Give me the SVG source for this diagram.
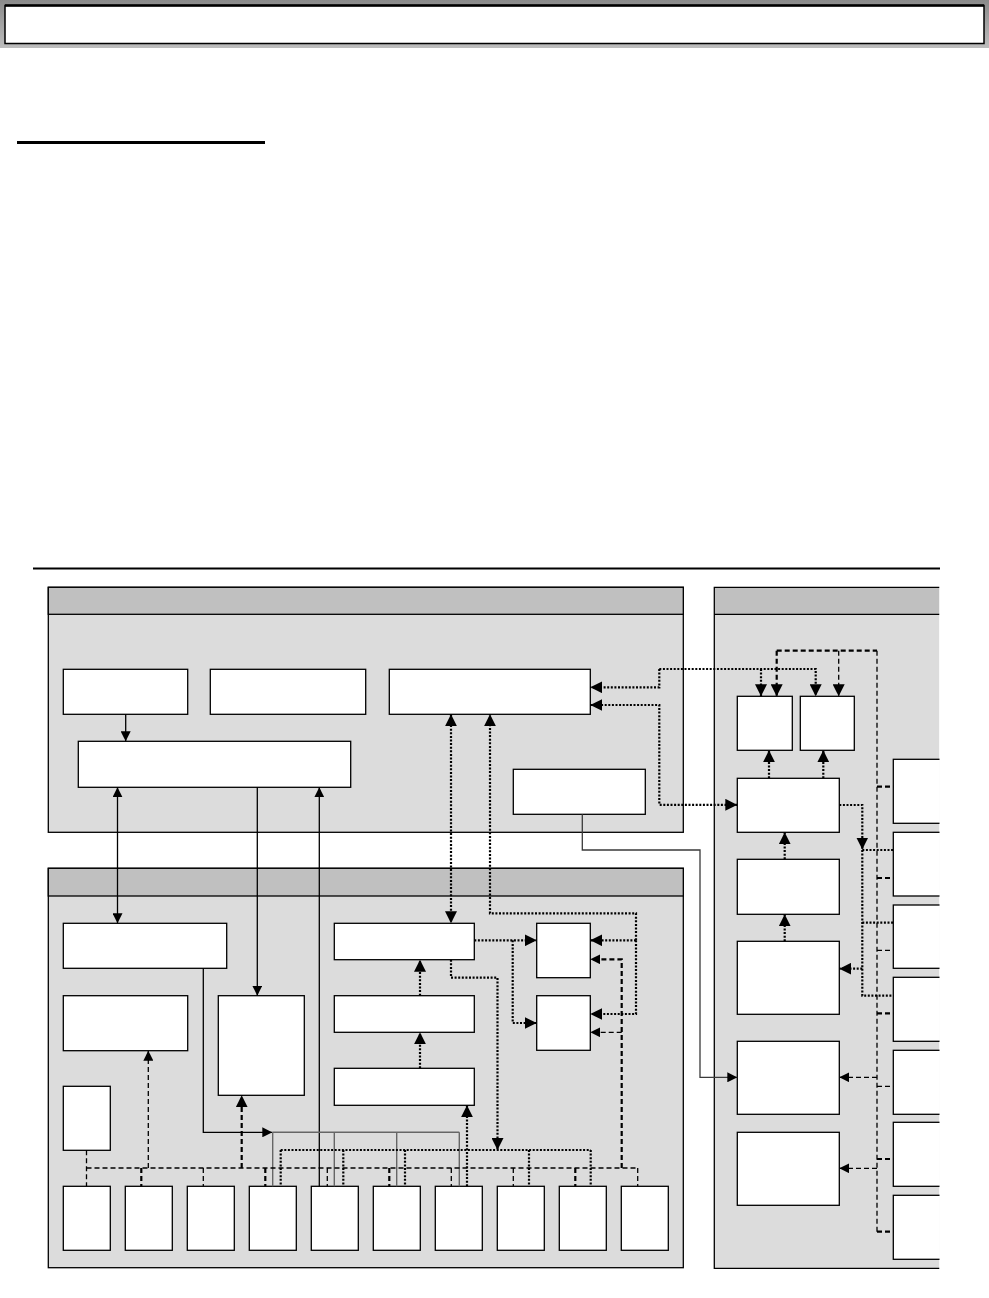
<svg xmlns="http://www.w3.org/2000/svg" width="989" height="1298" viewBox="0 0 989 1298">
<defs>
<style>
.node{fill:#fff;stroke:#000;stroke-width:1.3}
.cont{fill:#dcdcdc;stroke:#000;stroke-width:1.3}
.band{fill:#c0c0c0;stroke:#000;stroke-width:1.3}
.solid{fill:none;stroke:#000;stroke-width:1.3}
.grey{fill:none;stroke:#666;stroke-width:1.4}
.dgrey{fill:none;stroke:#3a3a3a;stroke-width:1.3}
.dot{fill:none;stroke:#000;stroke-width:2.2;stroke-dasharray:2 1.6}
.dash{fill:none;stroke:#000;stroke-width:1.3;stroke-dasharray:5 3}
.dashb{fill:none;stroke:#000;stroke-width:2.2;stroke-dasharray:5 3}
</style>
<marker id="ah" viewBox="0 0 10 10" refX="10" refY="5" markerWidth="10" markerHeight="10" markerUnits="userSpaceOnUse" orient="auto-start-reverse"><path d="M0,0L10,5L0,10z" fill="#000"/></marker>
<marker id="ahL" viewBox="0 0 10 10" refX="10" refY="5" markerWidth="12" markerHeight="12" markerUnits="userSpaceOnUse" orient="auto-start-reverse"><path d="M0,0L10,5L0,10z" fill="#000"/></marker>
<linearGradient id="hg" x1="0" y1="0" x2="0" y2="1"><stop offset="0" stop-color="#8a8a8a"/><stop offset="1" stop-color="#bdbdbd"/></linearGradient>
<clipPath id="clipR"><rect x="0" y="0" width="939.5" height="1298"/></clipPath>
</defs>
<rect width="989" height="1298" fill="#fff"/>
<g id="title">
<rect x="0" y="0" width="989" height="48" fill="url(#hg)"/>
<rect x="5" y="5.5" width="979" height="38" fill="#fff" stroke="#000" stroke-width="1.5"/>
<line x1="5" y1="5.5" x2="984" y2="5.5" stroke="#000" stroke-width="2.5"/>
</g>
<rect id="underline" x="17" y="141" width="248" height="3" fill="#000"/>
<rect id="rule" x="33" y="567.5" width="907" height="2" fill="#000"/>
<g id="container-top">
<rect class="cont" x="48.3" y="587.3" width="635" height="245"/>
<rect class="band" x="48.3" y="587.3" width="635" height="27"/>
</g>
<g id="container-bottom">
<rect class="cont" x="48.3" y="868.3" width="635" height="399.4"/>
<rect class="band" x="48.3" y="868.3" width="635" height="27.7"/>
</g>
<g id="container-right" clip-path="url(#clipR)">
<rect x="714.3" y="587.3" width="225" height="681" fill="#dcdcdc"/>
<rect x="714.3" y="587.3" width="225" height="27" fill="#c0c0c0"/>
<path class="solid" d="M939.5,587.3H714.3V1268.3H939.5M714.3,614.3H939.5"/>
</g>
<g id="node-A"><rect class="node" x="63.3" y="669.3" width="124.4" height="45"/></g>
<g id="node-B"><rect class="node" x="210.3" y="669.3" width="155.4" height="45"/></g>
<g id="node-C"><rect class="node" x="389.3" y="669.3" width="201" height="45"/></g>
<g id="node-D"><rect class="node" x="78.3" y="741.3" width="272.4" height="46"/></g>
<g id="node-E"><rect class="node" x="513.3" y="769.3" width="132" height="45"/></g>
<g id="node-F"><rect class="node" x="63.3" y="923.3" width="163.4" height="45"/></g>
<g id="node-H"><rect class="node" x="63.3" y="995.7" width="124.4" height="55"/></g>
<g id="node-G"><rect class="node" x="218.3" y="995.7" width="86" height="99.6"/></g>
<g id="node-I"><rect class="node" x="63.3" y="1086.3" width="47" height="64"/></g>
<g id="node-M"><rect class="node" x="334.3" y="923.3" width="140" height="36.4"/></g>
<g id="node-N"><rect class="node" x="334.3" y="995.7" width="140" height="36.6"/></g>
<g id="node-L"><rect class="node" x="334.3" y="1068.3" width="140" height="37"/></g>
<g id="node-J"><rect class="node" x="536.7" y="923.3" width="53.6" height="54.4"/></g>
<g id="node-K"><rect class="node" x="536.7" y="995.7" width="53.6" height="54.6"/></g>
<g id="node-B1"><rect class="node" x="63.3" y="1186.3" width="47" height="64"/></g>
<g id="node-B2"><rect class="node" x="125.3" y="1186.3" width="47" height="64"/></g>
<g id="node-B3"><rect class="node" x="187.3" y="1186.3" width="47" height="64"/></g>
<g id="node-B4"><rect class="node" x="249.3" y="1186.3" width="47" height="64"/></g>
<g id="node-B5"><rect class="node" x="311.3" y="1186.3" width="47" height="64"/></g>
<g id="node-B6"><rect class="node" x="373.3" y="1186.3" width="47" height="64"/></g>
<g id="node-B7"><rect class="node" x="435.3" y="1186.3" width="47" height="64"/></g>
<g id="node-B8"><rect class="node" x="497.3" y="1186.3" width="47" height="64"/></g>
<g id="node-B9"><rect class="node" x="559.3" y="1186.3" width="47" height="64"/></g>
<g id="node-B10"><rect class="node" x="621.3" y="1186.3" width="47" height="64"/></g>
<g id="node-P"><rect class="node" x="737.3" y="696.3" width="55" height="54"/></g>
<g id="node-Q"><rect class="node" x="800.3" y="696.3" width="54" height="54"/></g>
<g id="node-R"><rect class="node" x="737.3" y="778.3" width="102" height="54"/></g>
<g id="node-S"><rect class="node" x="737.3" y="859.3" width="102" height="55"/></g>
<g id="node-T"><rect class="node" x="737.3" y="941.3" width="102" height="73"/></g>
<g id="node-U"><rect class="node" x="737.3" y="1041.3" width="102" height="73"/></g>
<g id="node-V"><rect class="node" x="737.3" y="1132.3" width="102" height="73"/></g>
<g id="right-column" clip-path="url(#clipR)">
<g id="node-W1"><rect class="node" x="893.3" y="759.3" width="60" height="64"/></g>
<g id="node-W2"><rect class="node" x="893.3" y="832.3" width="60" height="63.7"/></g>
<g id="node-W3"><rect class="node" x="893.3" y="905" width="60" height="63.3"/></g>
<g id="node-W4"><rect class="node" x="893.3" y="977.3" width="60" height="64"/></g>
<g id="node-W5"><rect class="node" x="893.3" y="1050.3" width="60" height="64"/></g>
<g id="node-W6"><rect class="node" x="893.3" y="1122.3" width="60" height="64"/></g>
<g id="node-W7"><rect class="node" x="893.3" y="1195.3" width="60" height="64"/></g>
</g>
<g id="connectors">
<path class="solid" d="M125.7,714.3V741.3" marker-end="url(#ah)"/>
<path class="solid" d="M117.5,787.3V923.3" marker-start="url(#ah)" marker-end="url(#ah)"/>
<path class="solid" d="M257.3,787.3V995.7" marker-end="url(#ah)"/>
<path class="solid" d="M319.3,1186.3V787.3" marker-end="url(#ah)"/>
<path class="solid" d="M203.3,968.3V1132.3H272.3" marker-end="url(#ah)"/>
<path class="grey" d="M272.5,1132.3H459.3M272.7,1132.3V1186.3M334.3,1132.3V1186.3M396.7,1132.3V1186.3M459.3,1132.3V1186.3"/>
<path class="dgrey" d="M582.3,814.3V850H700V1077.3H737.3" marker-end="url(#ah)"/>
<path class="dot" d="M451,714.3V923.3" marker-start="url(#ahL)" marker-end="url(#ahL)"/>
<path class="dot" d="M636,940.3V913.3H490V714.3" marker-end="url(#ahL)"/>
<path class="dot" d="M636,940.3H590.3" marker-end="url(#ahL)"/>
<path class="dot" d="M636,940.3V1014H590.3" marker-end="url(#ahL)"/>
<path class="dot" d="M474.3,940.3H536.7" marker-end="url(#ahL)"/>
<path class="dot" d="M512.7,940.3V1023H536.7" marker-end="url(#ahL)"/>
<path class="dot" d="M420,995.7V959.7" marker-end="url(#ahL)"/>
<path class="dot" d="M420,1068.3V1032.3" marker-end="url(#ahL)"/>
<path class="dot" d="M451,959.7V977.7H497.5V1150" marker-end="url(#ahL)"/>
<path class="dot" d="M280.7,1150H590.7M280.7,1150V1186.3M343.3,1150V1186.3M405,1150V1186.3M529,1150V1186.3M590.7,1150V1186.3"/>
<path class="dot" d="M467,1186.3V1105.3" marker-end="url(#ahL)"/>
<path class="dash" d="M86.5,1150.3V1186.3M86.5,1168H637.7M203.3,1168V1186.3M327.3,1168V1186.3M451.3,1168V1186.3M513.3,1168V1186.3M637.7,1168V1186.3"/>
<path class="dashb" d="M141.3,1168V1186.3M265.3,1168V1186.3M389.3,1168V1186.3M575.3,1168V1186.3"/>
<path class="dash" d="M148.3,1168V1050.7" marker-end="url(#ah)"/>
<path class="dashb" d="M241.7,1168V1095.3" marker-end="url(#ahL)"/>
<path class="dashb" d="M621.7,1168V959.3H590.3" marker-end="url(#ah)"/>
<path class="dash" d="M621.7,1032.3H590.3" marker-end="url(#ah)"/>
<path class="dot" d="M659.3,669V687.3H590.3" marker-end="url(#ahL)"/>
<path class="dot" d="M659.3,669H815.7V696.3" marker-end="url(#ahL)"/>
<path class="dot" d="M761,669V696.3" marker-end="url(#ahL)"/>
<path class="dot" d="M590.3,705H659.3V804.8H737.3" marker-start="url(#ahL)" marker-end="url(#ahL)"/>
<path class="dot" d="M769,778.3V750.3" marker-end="url(#ahL)"/>
<path class="dot" d="M823.3,778.3V750.3" marker-end="url(#ahL)"/>
<path class="dot" d="M784.7,859.3V832.3" marker-end="url(#ahL)"/>
<path class="dot" d="M784.7,941.3V914.3" marker-end="url(#ahL)"/>
<path class="dot" d="M839.3,805H862.3V849.5" marker-end="url(#ahL)"/>
<path class="dot" d="M862.3,850H893.3M862.3,850V995.7H893.3M862.3,922.7H893.3"/>
<path class="dot" d="M862.3,968.7H839.3" marker-end="url(#ahL)"/>
<path class="dashb" d="M776.7,650.7V696.3" marker-end="url(#ahL)"/>
<path class="dashb" d="M776.7,650.7H877"/>
<path class="dash" d="M877,650.7V1231.7"/>
<path class="dash" d="M838.7,650.7V696.3" marker-end="url(#ahL)"/>
<path class="dashb" d="M877,786.7H893.3M877,878H893.3M877,1013.3H893.3M877,1159H893.3M877,1231.7H893.3"/>
<path class="dash" d="M877,950.3H893.3M877,1086.3H893.3"/>
<path class="dash" d="M877,1077.3H839.3" marker-end="url(#ah)"/>
<path class="dash" d="M877,1168.3H839.3" marker-end="url(#ah)"/>
</g>
</svg>
